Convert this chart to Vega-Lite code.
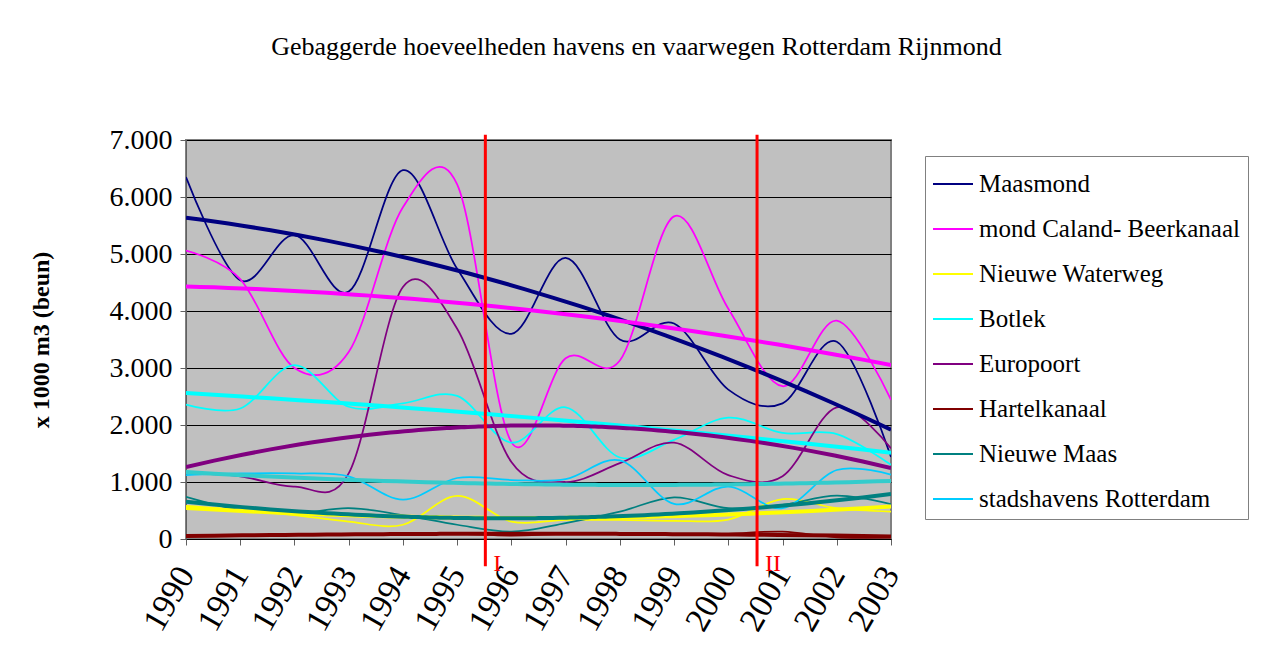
{
  "$schema": "https://vega.github.io/schema/vega-lite/v6.json",
  "autosize": "none",
  "width": 705,
  "height": 399,
  "padding": {"left": 186, "top": 140, "right": 370, "bottom": 131},
  "background": "#FFFFFF",
  "title": {
    "text": "Gebaggerde hoeveelheden havens en vaarwegen Rotterdam Rijnmond",
    "font": "Liberation Serif",
    "fontSize": 26,
    "fontWeight": "normal",
    "color": "#000000",
    "anchor": "middle",
    "frame": "group",
    "dx": 98,
    "offset": 66
  },
  "config": {
    "view": {"fill": "#C0C0C0", "stroke": "#808080", "strokeWidth": 2},
    "axis": {
      "labelFont": "Liberation Serif",
      "labelColor": "#000000",
      "titleFont": "Liberation Serif",
      "titleColor": "#000000",
      "domainColor": "#606060",
      "tickColor": "#606060",
      "tickSize": 6
    }
  },
  "datasets": {
    "series": [
      {"year": 1990, "series": "Maasmond", "value": 6350},
      {"year": 1991, "series": "Maasmond", "value": 4540},
      {"year": 1992, "series": "Maasmond", "value": 5330},
      {"year": 1993, "series": "Maasmond", "value": 4340},
      {"year": 1994, "series": "Maasmond", "value": 6470},
      {"year": 1995, "series": "Maasmond", "value": 4740},
      {"year": 1996, "series": "Maasmond", "value": 3600},
      {"year": 1997, "series": "Maasmond", "value": 4930},
      {"year": 1998, "series": "Maasmond", "value": 3500},
      {"year": 1999, "series": "Maasmond", "value": 3780},
      {"year": 2000, "series": "Maasmond", "value": 2620},
      {"year": 2001, "series": "Maasmond", "value": 2380},
      {"year": 2002, "series": "Maasmond", "value": 3460},
      {"year": 2003, "series": "Maasmond", "value": 1440},
      {"year": 1990, "series": "mond Caland- Beerkanaal", "value": 5060},
      {"year": 1991, "series": "mond Caland- Beerkanaal", "value": 4560},
      {"year": 1992, "series": "mond Caland- Beerkanaal", "value": 3000},
      {"year": 1993, "series": "mond Caland- Beerkanaal", "value": 3280},
      {"year": 1994, "series": "mond Caland- Beerkanaal", "value": 5820},
      {"year": 1995, "series": "mond Caland- Beerkanaal", "value": 6220},
      {"year": 1996, "series": "mond Caland- Beerkanaal", "value": 1700},
      {"year": 1997, "series": "mond Caland- Beerkanaal", "value": 3170},
      {"year": 1998, "series": "mond Caland- Beerkanaal", "value": 3130},
      {"year": 1999, "series": "mond Caland- Beerkanaal", "value": 5660},
      {"year": 2000, "series": "mond Caland- Beerkanaal", "value": 4040},
      {"year": 2001, "series": "mond Caland- Beerkanaal", "value": 2680},
      {"year": 2002, "series": "mond Caland- Beerkanaal", "value": 3830},
      {"year": 2003, "series": "mond Caland- Beerkanaal", "value": 2440},
      {"year": 1990, "series": "Nieuwe Waterweg", "value": 580},
      {"year": 1991, "series": "Nieuwe Waterweg", "value": 510},
      {"year": 1992, "series": "Nieuwe Waterweg", "value": 420},
      {"year": 1993, "series": "Nieuwe Waterweg", "value": 305},
      {"year": 1994, "series": "Nieuwe Waterweg", "value": 250},
      {"year": 1995, "series": "Nieuwe Waterweg", "value": 755},
      {"year": 1996, "series": "Nieuwe Waterweg", "value": 305},
      {"year": 1997, "series": "Nieuwe Waterweg", "value": 335},
      {"year": 1998, "series": "Nieuwe Waterweg", "value": 335},
      {"year": 1999, "series": "Nieuwe Waterweg", "value": 320},
      {"year": 2000, "series": "Nieuwe Waterweg", "value": 340},
      {"year": 2001, "series": "Nieuwe Waterweg", "value": 700},
      {"year": 2002, "series": "Nieuwe Waterweg", "value": 540},
      {"year": 2003, "series": "Nieuwe Waterweg", "value": 480},
      {"year": 1990, "series": "Botlek", "value": 2360},
      {"year": 1991, "series": "Botlek", "value": 2290},
      {"year": 1992, "series": "Botlek", "value": 3050},
      {"year": 1993, "series": "Botlek", "value": 2320},
      {"year": 1994, "series": "Botlek", "value": 2380},
      {"year": 1995, "series": "Botlek", "value": 2510},
      {"year": 1996, "series": "Botlek", "value": 1690},
      {"year": 1997, "series": "Botlek", "value": 2310},
      {"year": 1998, "series": "Botlek", "value": 1430},
      {"year": 1999, "series": "Botlek", "value": 1740},
      {"year": 2000, "series": "Botlek", "value": 2130},
      {"year": 2001, "series": "Botlek", "value": 1860},
      {"year": 2002, "series": "Botlek", "value": 1840},
      {"year": 2003, "series": "Botlek", "value": 1300},
      {"year": 1990, "series": "Europoort", "value": 1150},
      {"year": 1991, "series": "Europoort", "value": 1100},
      {"year": 1992, "series": "Europoort", "value": 920},
      {"year": 1993, "series": "Europoort", "value": 1150},
      {"year": 1994, "series": "Europoort", "value": 4420},
      {"year": 1995, "series": "Europoort", "value": 3690},
      {"year": 1996, "series": "Europoort", "value": 1350},
      {"year": 1997, "series": "Europoort", "value": 1000},
      {"year": 1998, "series": "Europoort", "value": 1330},
      {"year": 1999, "series": "Europoort", "value": 1690},
      {"year": 2000, "series": "Europoort", "value": 1120},
      {"year": 2001, "series": "Europoort", "value": 1100},
      {"year": 2002, "series": "Europoort", "value": 2310},
      {"year": 2003, "series": "Europoort", "value": 1590},
      {"year": 1990, "series": "Hartelkanaal", "value": 60},
      {"year": 1991, "series": "Hartelkanaal", "value": 50},
      {"year": 1992, "series": "Hartelkanaal", "value": 80},
      {"year": 1993, "series": "Hartelkanaal", "value": 90},
      {"year": 1994, "series": "Hartelkanaal", "value": 90},
      {"year": 1995, "series": "Hartelkanaal", "value": 90},
      {"year": 1996, "series": "Hartelkanaal", "value": 60},
      {"year": 1997, "series": "Hartelkanaal", "value": 90},
      {"year": 1998, "series": "Hartelkanaal", "value": 90},
      {"year": 1999, "series": "Hartelkanaal", "value": 80},
      {"year": 2000, "series": "Hartelkanaal", "value": 90},
      {"year": 2001, "series": "Hartelkanaal", "value": 130},
      {"year": 2002, "series": "Hartelkanaal", "value": 30},
      {"year": 2003, "series": "Hartelkanaal", "value": 30},
      {"year": 1990, "series": "Nieuwe Maas", "value": 740},
      {"year": 1991, "series": "Nieuwe Maas", "value": 510},
      {"year": 1992, "series": "Nieuwe Maas", "value": 450},
      {"year": 1993, "series": "Nieuwe Maas", "value": 540},
      {"year": 1994, "series": "Nieuwe Maas", "value": 420},
      {"year": 1995, "series": "Nieuwe Maas", "value": 250},
      {"year": 1996, "series": "Nieuwe Maas", "value": 130},
      {"year": 1997, "series": "Nieuwe Maas", "value": 280},
      {"year": 1998, "series": "Nieuwe Maas", "value": 480},
      {"year": 1999, "series": "Nieuwe Maas", "value": 730},
      {"year": 2000, "series": "Nieuwe Maas", "value": 540},
      {"year": 2001, "series": "Nieuwe Maas", "value": 600},
      {"year": 2002, "series": "Nieuwe Maas", "value": 760},
      {"year": 2003, "series": "Nieuwe Maas", "value": 610},
      {"year": 1990, "series": "stadshavens Rotterdam", "value": 1120},
      {"year": 1991, "series": "stadshavens Rotterdam", "value": 1150},
      {"year": 1992, "series": "stadshavens Rotterdam", "value": 1150},
      {"year": 1993, "series": "stadshavens Rotterdam", "value": 1100},
      {"year": 1994, "series": "stadshavens Rotterdam", "value": 690},
      {"year": 1995, "series": "stadshavens Rotterdam", "value": 1070},
      {"year": 1996, "series": "stadshavens Rotterdam", "value": 1035},
      {"year": 1997, "series": "stadshavens Rotterdam", "value": 1050},
      {"year": 1998, "series": "stadshavens Rotterdam", "value": 1380},
      {"year": 1999, "series": "stadshavens Rotterdam", "value": 615},
      {"year": 2000, "series": "stadshavens Rotterdam", "value": 920},
      {"year": 2001, "series": "stadshavens Rotterdam", "value": 540},
      {"year": 2002, "series": "stadshavens Rotterdam", "value": 1210},
      {"year": 2003, "series": "stadshavens Rotterdam", "value": 1130}
    ],
    "markers": [
      {"x": 1995.52, "top": 7090, "bottom": -480, "texty": -440, "label": "I"},
      {"x": 2000.53, "top": 7090, "bottom": -480, "texty": -440, "label": "II"}
    ]
  },
  "resolve": {"scale": {"color": "independent"}},
  "layer": [
    {
      "data": {"name": "series"},
      "mark": {"type": "line", "interpolate": "cardinal", "strokeWidth": 1.75, "clip": true},
      "encoding": {
        "x": {
          "field": "year", "type": "quantitative",
          "scale": {"domain": [1990, 2003], "nice": false, "zero": false},
          "axis": {
            "title": null,
            "values": [1990, 1991, 1992, 1993, 1994, 1995, 1996, 1997, 1998, 1999, 2000, 2001, 2002, 2003],
            "format": "d",
            "labelAngle": -60,
            "labelAlign": "right",
            "labelBaseline": "middle",
            "labelFontSize": 34,
            "labelPadding": 24,
            "labelOverlap": false,
            "labelFlush": false,
            "labelBound": false,
            "grid": false,
            "domainColor": "#000000"
          }
        },
        "y": {
          "field": "value", "type": "quantitative",
          "scale": {"domain": [0, 7000], "nice": false},
          "axis": {
            "title": "x 1000 m3 (beun)",
            "titleFontSize": 24,
            "titleFontWeight": "bold",
            "titlePadding": 56,
            "values": [0, 1000, 2000, 3000, 4000, 5000, 6000, 7000],
            "labelExpr": "replace(format(datum.value, ',d'), ',', '.')",
            "labelFontSize": 28,
            "labelPadding": 8,
            "grid": true,
            "gridColor": "#000000",
            "gridWidth": 1,
            "gridOpacity": 1
          }
        },
        "color": {
          "field": "series", "type": "nominal",
          "scale": {
            "domain": ["Maasmond", "mond Caland- Beerkanaal", "Nieuwe Waterweg", "Botlek", "Europoort", "Hartelkanaal", "Nieuwe Maas", "stadshavens Rotterdam"],
            "range": ["#000080", "#FF00FF", "#FFFF00", "#00FFFF", "#800080", "#800000", "#008080", "#00CCFF"]
          },
          "legend": {
            "title": null,
            "orient": "none",
            "legendX": 739,
            "legendY": 16,
            "symbolType": "stroke",
            "symbolSize": 1600,
            "symbolStrokeWidth": 2,
            "labelFont": "Liberation Serif",
            "labelFontSize": 25,
            "labelColor": "#000000",
            "labelOffset": 5,
            "labelLimit": 400,
            "rowPadding": 11,
            "padding": 7,
            "strokeColor": "#808080",
            "fillColor": "#FFFFFF"
          }
        }
      }
    },
    {
      "data": {"name": "series"},
      "transform": [
        {"regression": "value", "on": "year", "groupby": ["series"], "method": "poly", "order": 2, "extent": [1990, 2003]}
      ],
      "mark": {"type": "line", "strokeWidth": 4, "clip": true},
      "encoding": {
        "x": {"field": "year", "type": "quantitative"},
        "y": {"field": "value", "type": "quantitative"},
        "color": {
          "field": "series", "type": "nominal",
          "scale": {
            "domain": ["Maasmond", "mond Caland- Beerkanaal", "Nieuwe Waterweg", "Botlek", "Europoort", "Hartelkanaal", "Nieuwe Maas", "stadshavens Rotterdam"],
            "range": ["#000080", "#FF00FF", "#FFFF00", "#00FFFF", "#800080", "#800000", "#008080", "#33CCCC"]
          },
          "legend": null
        }
      }
    },
    {
      "data": {"name": "markers"},
      "mark": {"type": "rule", "color": "#FF0000", "strokeWidth": 3, "clip": false},
      "encoding": {
        "x": {"field": "x", "type": "quantitative"},
        "y": {"field": "top", "type": "quantitative"},
        "y2": {"field": "bottom"}
      }
    },
    {
      "data": {"name": "markers"},
      "mark": {"type": "text", "color": "#FF0000", "font": "Liberation Serif", "fontSize": 24, "align": "left", "baseline": "middle", "dx": 8, "clip": false},
      "encoding": {
        "x": {"field": "x", "type": "quantitative"},
        "y": {"field": "texty", "type": "quantitative"},
        "text": {"field": "label"}
      }
    }
  ]
}
